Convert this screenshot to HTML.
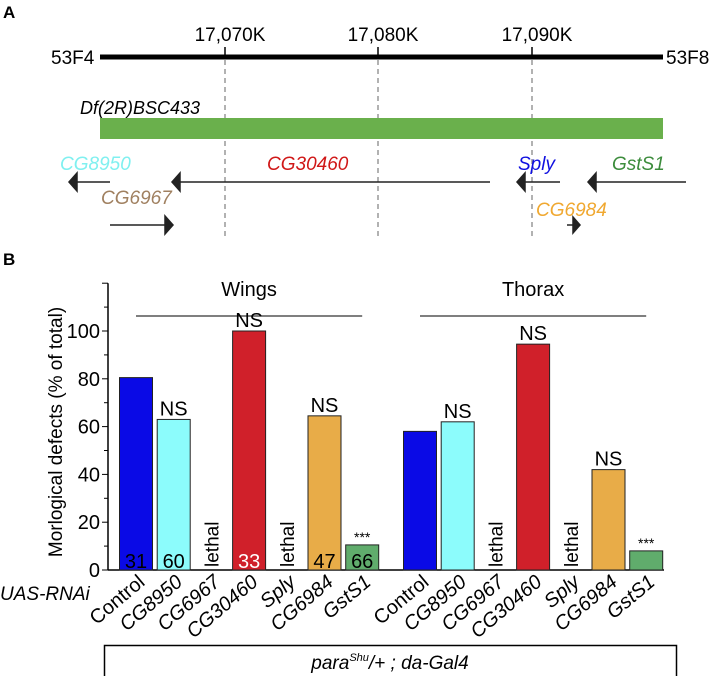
<!DOCTYPE html>
<html><head><meta charset="utf-8"><style>
body{margin:0;background:#fff}
svg{display:block;font-family:"Liberation Sans",sans-serif}
</style></head><body>
<svg width="714" height="676" viewBox="0 0 714 676">
<g id="panelA">
<text x="3" y="18" font-size="17" font-weight="bold">A</text>
<line x1="100" y1="57" x2="663" y2="57" stroke="#000" stroke-width="5"/>
<text x="51" y="64" font-size="19">53F4</text>
<text x="666" y="64" font-size="19">53F8</text>
<g stroke="#000" stroke-width="1.5"><line x1="225" y1="47" x2="225" y2="57"/><line x1="378" y1="47" x2="378" y2="57"/><line x1="532" y1="47" x2="532" y2="57"/></g>
<g stroke="#888" stroke-width="1.3" stroke-dasharray="5,4"><line x1="225" y1="60" x2="225" y2="236"/><line x1="378" y1="60" x2="378" y2="236"/><line x1="532" y1="60" x2="532" y2="236"/></g>
<g font-size="19" text-anchor="middle"><text x="230" y="41">17,070K</text><text x="383" y="41">17,080K</text><text x="537" y="41">17,090K</text></g>
<text x="80" y="114" font-size="18" font-style="italic">Df(2R)BSC433</text>
<rect x="100" y="118" width="563" height="21" fill="#6ab04c"/>
<g font-size="19" font-style="italic">
<text x="60" y="170" fill="#80f0f0">CG8950</text>
<text x="267" y="170" fill="#d01818">CG30460</text>
<text x="518" y="170" fill="#1010e0">Sply</text>
<text x="612" y="170" fill="#3c8c3c">GstS1</text>
<text x="101" y="204" fill="#a08060">CG6967</text>
<text x="536" y="216" fill="#f0a830">CG6984</text>
</g>
<g stroke="#222" stroke-width="1.5" fill="#222">
<line x1="75" y1="182" x2="110" y2="182"/><polygon points="69,182 77,173 77,191"/>
<line x1="178" y1="182" x2="490" y2="182"/><polygon points="172,182 180,173 180,191"/>
<line x1="523" y1="182" x2="560" y2="182"/><polygon points="517,182 525,173 525,191"/>
<line x1="594" y1="182" x2="686" y2="182"/><polygon points="588,182 596,173 596,191"/>
<line x1="110" y1="225" x2="166" y2="225"/><polygon points="173,225 165,216 165,234"/>
<line x1="567" y1="225" x2="574" y2="225"/><polygon points="580,225 573,217 573,233"/>
</g>
</g>
<g id="panelB">
<text x="3" y="265" font-size="17" font-weight="bold">B</text>
<g id="chart"></g>
<rect x="104.5" y="645.5" width="572" height="32" fill="#fff" stroke="#000" stroke-width="1.5"/>
<text x="390" y="669" font-size="19" font-style="italic" text-anchor="middle">para<tspan font-size="11" dy="-8">Shu</tspan><tspan dy="8">/+ ; da-Gal4</tspan></text>
</g>
</svg>
<script>
const categories=["Control","CG8950","CG6967","CG30460","Sply","CG6984","GstS1"];
const wingValues=[80.5,63,null,100,null,64.5,10.5];
const thoraxValues=[58,62,null,94.5,null,42,8];
const wingCounts=["31","60","","33","","47","66"];
const wingSig=["","NS","","NS","","NS","***"];
const thoraxSig=["","NS","","NS","","NS","***"];
const colors=["#0a0ae6","#8cfcfc","#fff","#d0202a","#fff","#e8ac48","#60ac6c"];
const countColors=["#000","#000","#000","#fff","#000","#000","#000"];
const yTicks=[0,20,40,60,80,100];
const groups=["Wings","Thorax"];
const NS="http://www.w3.org/2000/svg";
const g=document.getElementById("chart");
const y0=570,pxPer=2.39;
function yS(v){return y0-v*pxPer;}
function xS(group,i){return (group===0?136:420)+i*37.7;}
function mk(t,a,parent){const e=document.createElementNS(NS,t);for(const k in a)e.setAttribute(k,a[k]);(parent||g).appendChild(e);return e;}
let ax=mk("line",{x1:108,y1:yS(120),x2:108,y2:y0,stroke:"#000","stroke-width":1.5});


let bx=mk("line",{x1:108,y1:y0,x2:664,y2:y0,stroke:"#000","stroke-width":1.5});


for(let v=0;v<=120;v+=10){mk("line",{x1:v%20===0?102:104,y1:yS(v),x2:108,y2:yS(v),stroke:"#000","stroke-width":1});}
yTicks.forEach(v=>{const t=mk("text",{x:100,y:yS(v)+7,"font-size":20,"text-anchor":"end"});t.textContent=v;

});
const yt=mk("text",{transform:"translate(62,432) rotate(-90)","font-size":19,"text-anchor":"middle"});yt.textContent="Morlogical defects (% of total)";


const ua=mk("text",{x:0,y:600,"font-size":19,"font-style":"italic"});ua.textContent="UAS-RNAi";


[wingValues,thoraxValues].forEach((vals,gi)=>{
  const cx0=xS(gi,0),cx1=xS(gi,6);
  const gl=mk("line",{x1:cx0,y1:316,x2:cx1,y2:316,stroke:"#333","stroke-width":1.3});
  
  
  const gt=mk("text",{x:(cx0+cx1)/2,y:296,"font-size":20,"text-anchor":"middle"});gt.textContent=groups[gi];
  
  
  const sig=gi===0?wingSig:thoraxSig;
  vals.forEach((v,i)=>{
    const cx=xS(gi,i);
    if(v===null){const t=mk("text",{transform:`translate(${cx+7},567) rotate(-90)`,"font-size":19});t.textContent="lethal";
      
      }
    else{
      const r=mk("rect",{x:cx-16.5,y:yS(v),width:33,height:y0-yS(v),fill:colors[i],stroke:"#222","stroke-width":1});
      
      
      if(sig[i]){const s=mk("text",{x:cx,y:yS(v)-(sig[i]==="***"?3:4),"font-size":sig[i]==="***"?14:20,"text-anchor":"middle"});s.textContent=sig[i];
        
        }
      if(gi===0&&wingCounts[i]){const c=mk("text",{x:cx,y:568,"font-size":20,"text-anchor":"middle",fill:countColors[i]});c.textContent=wingCounts[i];
        
        }
    }
    const l=mk("text",{transform:`translate(${cx+10},584) rotate(-40)`,"font-size":20,"text-anchor":"end","font-style":i===0?"normal":"italic"});l.textContent=categories[i];
    
    
  });
});
</script>
</body></html>
